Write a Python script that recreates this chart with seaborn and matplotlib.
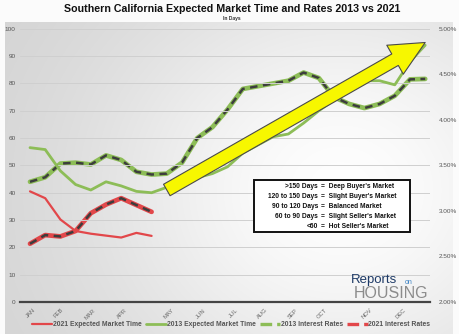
import numpy as np
import pandas as pd
import matplotlib
matplotlib.use("Agg")
import matplotlib.pyplot as plt
import seaborn as sns
from matplotlib.lines import Line2D
from matplotlib.patches import Rectangle

# ---------------- data ----------------
months = ["JAN", "FEB", "MAR", "APR", "MAY", "JUN", "JUL", "AUG", "SEP", "OCT", "NOV", "DEC"]
month_pos = [0.4, 4.1, 8.3, 12.5, 18.6, 22.8, 27.1, 30.9, 34.9, 38.8, 44.7, 49.1]

weeks_2013 = list(range(0, 53, 2))
market_2013 = [56.5, 55.8, 48, 43, 41, 44, 42.5, 40.5, 40, 42, 44, 45.5, 47, 49.5,
               54.5, 57.5, 60.5, 61.5, 65.5, 70, 74, 78, 81, 81, 79.5, 88, 94]
rates_2013 = [3.32, 3.37, 3.52, 3.53, 3.51, 3.61, 3.56, 3.43, 3.40, 3.41, 3.53, 3.80,
              3.92, 4.115, 4.34, 4.37, 4.40, 4.43, 4.52, 4.46, 4.25, 4.175, 4.13,
              4.175, 4.265, 4.445, 4.45]

weeks_2021 = list(range(0, 17, 2))
market_2021 = [40.5, 38, 30.2, 26, 25, 24.3, 23.6, 25.3, 24.2]
rates_2021 = [2.64, 2.735, 2.72, 2.78, 2.975, 3.07, 3.14, 3.065, 2.99]

legend_labels = ["2021 Expected Market Time", "2013 Expected Market Time",
                 "2013 Interest Rates", "2021 Interest Rates"]
box_left = [">150 Days", "120 to 150 Days", "90 to 120 Days", "60 to 90 Days", "<60"]
box_right = ["=  Deep Buyer's Market", "=  Slight Buyer's Market", "=  Balanced Market",
             "=  Slight Seller's Market", "=  Hot Seller's Market"]

arrow_tail = (18, 41)
arrow_tip = (52, 95)

RED = "#e2474a"
GREEN = "#8dbd57"
DARK = "#3d3d3d"
FONT = ["Liberation Sans", "DejaVu Sans"]

df13 = pd.DataFrame({"week": weeks_2013, "market": market_2013, "rate": rates_2013})
df21 = pd.DataFrame({"week": weeks_2021, "market": market_2021, "rate": rates_2021})

sns.set_style("white")
plt.rcParams["font.family"] = FONT

W, H = 460, 334
fig = plt.figure(figsize=(W / 100, H / 100), dpi=100)
fig.patch.set_facecolor("white")

def fx(px):
    return px / W

def fy(py):
    return 1 - py / H

# background gradient panel
bg = fig.add_axes([0, 0, 1, 1], zorder=-10)
yy, xx = np.mgrid[0:H, 0:W]
val = 0.82 + 0.175 * np.exp(-(((xx - 340) / 250) ** 2 + ((yy - 190) / 220) ** 2))
inside = (xx >= 5) & (xx <= 452) & (yy >= 22)
img = np.where(inside, val, 0.985)
bg.imshow(np.dstack([img, img, img]), extent=[0, 1, 0, 1], aspect="auto", origin="upper")
bg.set_axis_off()

# main axes
ax = fig.add_axes([fx(20), fy(302), fx(430) - fx(20), fy(22) - fy(302)])
ax.set_facecolor("none")
ax.set_xlim((20 - 30) / 7.6, (430 - 30) / 7.6)
ax.set_ylim(0, 102.5)
ax.set_yticks(range(0, 101, 10))
ax.set_yticklabels([str(v) for v in range(0, 101, 10)])
ax.grid(axis="y", color="#cfcfcf", lw=0.7)
ax.set_axisbelow(True)
for s in ["top", "right", "left"]:
    ax.spines[s].set_visible(False)
ax.spines["bottom"].set_color("#444444")
ax.spines["bottom"].set_linewidth(1.6)
ax.tick_params(axis="y", length=0, pad=3, labelsize=4.6, labelcolor="#555555")
ax.set_xticks(month_pos)
ax.set_xticklabels(months, rotation=45, ha="right", rotation_mode="anchor")
ax.tick_params(axis="x", length=0, pad=4, labelsize=4.2, labelcolor="#666666")

ax2 = ax.twinx()
ax2.set_facecolor("none")
ax2.set_ylim(2.0, 2.0 + 102.5 * 0.03)
ax2.set_yticks(np.arange(2.0, 5.01, 0.5))
ax2.set_yticklabels([f"{v:.2f}%" for v in np.arange(2.0, 5.01, 0.5)])
ax2.tick_params(axis="y", length=0, pad=6, labelsize=4.6, labelcolor="#555555")
for s in ["top", "right", "left", "bottom"]:
    ax2.spines[s].set_visible(False)

# market time lines
sns.lineplot(data=df13, x="week", y="market", ax=ax, color=GREEN, lw=2.0, zorder=3)
sns.lineplot(data=df21, x="week", y="market", ax=ax, color=RED, lw=1.6, zorder=3)
ax.set_xlabel("")
ax.set_ylabel("")

# interest rate lines (colored halo + dark dashes)
sns.lineplot(data=df13, x="week", y="rate", ax=ax2, color=GREEN, lw=3.4, zorder=3)
sns.lineplot(data=df13, x="week", y="rate", ax=ax2, color=DARK, lw=1.8,
             dashes=False, zorder=4).lines[-1].set_dashes([3.0, 2.2])
sns.lineplot(data=df21, x="week", y="rate", ax=ax2, color=RED, lw=3.4, zorder=3)
sns.lineplot(data=df21, x="week", y="rate", ax=ax2, color=DARK, lw=1.8,
             dashes=False, zorder=4).lines[-1].set_dashes([3.0, 2.2])
ax2.set_xlabel("")
ax2.set_ylabel("")
ax2.set_xlim(ax.get_xlim())

# yellow arrow
ax.annotate("", xy=arrow_tip, xytext=arrow_tail, zorder=6,
            arrowprops=dict(arrowstyle="simple,head_length=2.5,head_width=2.4,tail_width=0.95",
                            mutation_scale=10, fc="#f7f700", ec="#4a4a4a", lw=0.8,
                            shrinkA=0, shrinkB=0))
ax2.set_zorder(ax.get_zorder() - 0.5)

# title
fig.text(fx(232), fy(9), "Southern California Expected Market Time and Rates 2013 vs 2021",
         ha="center", va="center", fontsize=7.7, fontweight="bold", color="#111111")
fig.text(fx(232), fy(18.5), "In Days", ha="center", va="center", fontsize=3.6,
         fontweight="bold", color="#333333")

# legend box of market definitions
fig.patches.append(Rectangle((fx(254), fy(232)), fx(410) - fx(254), fy(180) - fy(232),
                             transform=fig.transFigure, fc="white", ec="#111111", lw=1.4,
                             zorder=20))
for i, (l, r) in enumerate(zip(box_left, box_right)):
    y = fy(186.5 + 10 * i)
    fig.text(fx(318), y, l, ha="right", va="center", fontsize=4.8, fontweight="bold",
             color="#111111", zorder=21)
    fig.text(fx(321), y, r, ha="left", va="center", fontsize=4.8, fontweight="bold",
             color="#111111", zorder=21)

# logo
fig.text(fx(351), fy(280), "Reports", ha="left", va="center", fontsize=9.5,
         color="#1e3a66", zorder=21)
fig.text(fx(405), fy(283), "on", ha="left", va="center", fontsize=5, color="#3b82c4", zorder=21)
fig.text(fx(428), fy(294), "HOUSING", ha="right", va="center", fontsize=11.5,
         color="#8c8c8c", zorder=21)

# bottom legend
handles = [
    Line2D([], [], color=RED, lw=1.6),
    Line2D([], [], color=GREEN, lw=2.0),
    Line2D([], [], color=GREEN, lw=2.4, dashes=[3.5, 1.5]),
    Line2D([], [], color=RED, lw=2.4, dashes=[3.5, 1.5]),
]
leg = fig.legend(handles, legend_labels, loc="center", bbox_to_anchor=(fx(231), fy(325)),
                 ncol=4, frameon=False, fontsize=4.9, handlelength=3.0, handletextpad=0.1,
                 columnspacing=0.6, borderaxespad=0)
for t in leg.get_texts():
    t.set_color("#555555")
    t.set_fontweight("bold")

fig.savefig("out.png", dpi=100, facecolor=fig.get_facecolor())
